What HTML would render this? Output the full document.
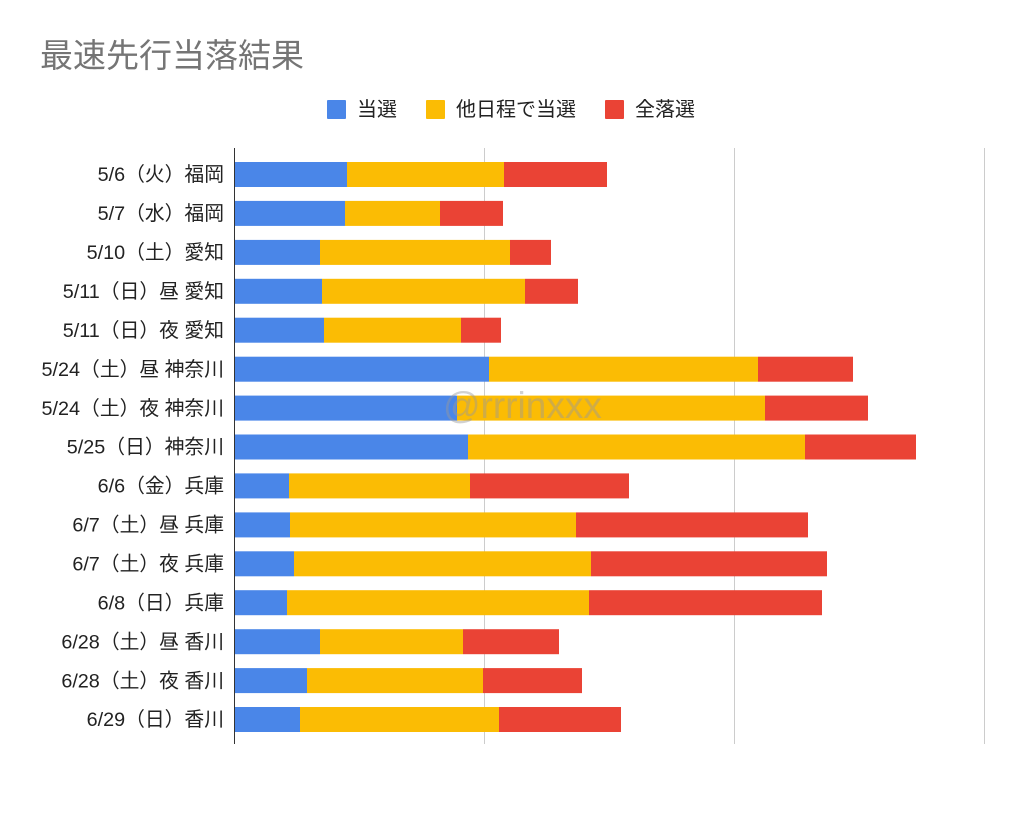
<!DOCTYPE html>
<html><head><meta charset="utf-8"><style>
body{margin:0;background:#fff;}
svg text{font-family:"Liberation Sans","Noto Sans CJK JP",sans-serif;}
</style></head><body>
<svg width="1024" height="815" xmlns="http://www.w3.org/2000/svg">
<rect width="1024" height="815" fill="#fff"/>
<text x="40" y="67" font-size="33" fill="#757575">最速先行当落結果</text>
<rect x="327" y="100" width="19" height="19" fill="#4a86e8" rx="1"/><text x="357" y="116" font-size="20" fill="#222">当選</text>
<rect x="426" y="100" width="19" height="19" fill="#fbbc04" rx="1"/><text x="456" y="116" font-size="20" fill="#222">他日程で当選</text>
<rect x="605" y="100" width="19" height="19" fill="#ea4335" rx="1"/><text x="635" y="116" font-size="20" fill="#222">全落選</text>
<g stroke="#ccc" stroke-width="1"><line x1="484.5" y1="148" x2="484.5" y2="744"/><line x1="734.5" y1="148" x2="734.5" y2="744"/><line x1="984.5" y1="148" x2="984.5" y2="744"/></g>
<g>
<rect x="234" y="162" width="113" height="25" fill="#4a86e8"/><rect x="347" y="162" width="157" height="25" fill="#fbbc04"/><rect x="504" y="162" width="103" height="25" fill="#ea4335"/>
<rect x="234" y="200.9" width="111" height="25" fill="#4a86e8"/><rect x="345" y="200.9" width="95" height="25" fill="#fbbc04"/><rect x="440" y="200.9" width="63" height="25" fill="#ea4335"/>
<rect x="234" y="239.9" width="86" height="25" fill="#4a86e8"/><rect x="320" y="239.9" width="190" height="25" fill="#fbbc04"/><rect x="510" y="239.9" width="41" height="25" fill="#ea4335"/>
<rect x="234" y="278.8" width="88" height="25" fill="#4a86e8"/><rect x="322" y="278.8" width="203" height="25" fill="#fbbc04"/><rect x="525" y="278.8" width="53" height="25" fill="#ea4335"/>
<rect x="234" y="317.7" width="90" height="25" fill="#4a86e8"/><rect x="324" y="317.7" width="137" height="25" fill="#fbbc04"/><rect x="461" y="317.7" width="40" height="25" fill="#ea4335"/>
<rect x="234" y="356.7" width="255" height="25" fill="#4a86e8"/><rect x="489" y="356.7" width="269" height="25" fill="#fbbc04"/><rect x="758" y="356.7" width="95" height="25" fill="#ea4335"/>
<rect x="234" y="395.6" width="223" height="25" fill="#4a86e8"/><rect x="457" y="395.6" width="308" height="25" fill="#fbbc04"/><rect x="765" y="395.6" width="103" height="25" fill="#ea4335"/>
<rect x="234" y="434.5" width="234" height="25" fill="#4a86e8"/><rect x="468" y="434.5" width="337" height="25" fill="#fbbc04"/><rect x="805" y="434.5" width="111" height="25" fill="#ea4335"/>
<rect x="234" y="473.4" width="55" height="25" fill="#4a86e8"/><rect x="289" y="473.4" width="181" height="25" fill="#fbbc04"/><rect x="470" y="473.4" width="159" height="25" fill="#ea4335"/>
<rect x="234" y="512.4" width="56" height="25" fill="#4a86e8"/><rect x="290" y="512.4" width="286" height="25" fill="#fbbc04"/><rect x="576" y="512.4" width="232" height="25" fill="#ea4335"/>
<rect x="234" y="551.3" width="60" height="25" fill="#4a86e8"/><rect x="294" y="551.3" width="297" height="25" fill="#fbbc04"/><rect x="591" y="551.3" width="236" height="25" fill="#ea4335"/>
<rect x="234" y="590.2" width="53" height="25" fill="#4a86e8"/><rect x="287" y="590.2" width="302" height="25" fill="#fbbc04"/><rect x="589" y="590.2" width="233" height="25" fill="#ea4335"/>
<rect x="234" y="629.2" width="86" height="25" fill="#4a86e8"/><rect x="320" y="629.2" width="143" height="25" fill="#fbbc04"/><rect x="463" y="629.2" width="96" height="25" fill="#ea4335"/>
<rect x="234" y="668.1" width="73" height="25" fill="#4a86e8"/><rect x="307" y="668.1" width="176" height="25" fill="#fbbc04"/><rect x="483" y="668.1" width="99" height="25" fill="#ea4335"/>
<rect x="234" y="707" width="66" height="25" fill="#4a86e8"/><rect x="300" y="707" width="199" height="25" fill="#fbbc04"/><rect x="499" y="707" width="122" height="25" fill="#ea4335"/>
</g>
<g font-size="19.8" fill="#222" text-anchor="end">
<text x="224" y="181">5/6（火）福岡</text>
<text x="224" y="220">5/7（水）福岡</text>
<text x="224" y="259">5/10（土）愛知</text>
<text x="224" y="298">5/11（日）昼 愛知</text>
<text x="224" y="337">5/11（日）夜 愛知</text>
<text x="224" y="376">5/24（土）昼 神奈川</text>
<text x="224" y="414.8">5/24（土）夜 神奈川</text>
<text x="224" y="453.7">5/25（日）神奈川</text>
<text x="224" y="492.6">6/6（金）兵庫</text>
<text x="224" y="531.6">6/7（土）昼 兵庫</text>
<text x="224" y="570.5">6/7（土）夜 兵庫</text>
<text x="224" y="609.4">6/8（日）兵庫</text>
<text x="224" y="648.4">6/28（土）昼 香川</text>
<text x="224" y="687.3">6/28（土）夜 香川</text>
<text x="224" y="726.2">6/29（日）香川</text>
</g>
<line x1="234.5" y1="148" x2="234.5" y2="744" stroke="#333" stroke-width="1"/>
<text x="443" y="418" font-size="37" fill="#999" fill-opacity="0.45">@rrrinxxx</text>
</svg>
</body></html>
